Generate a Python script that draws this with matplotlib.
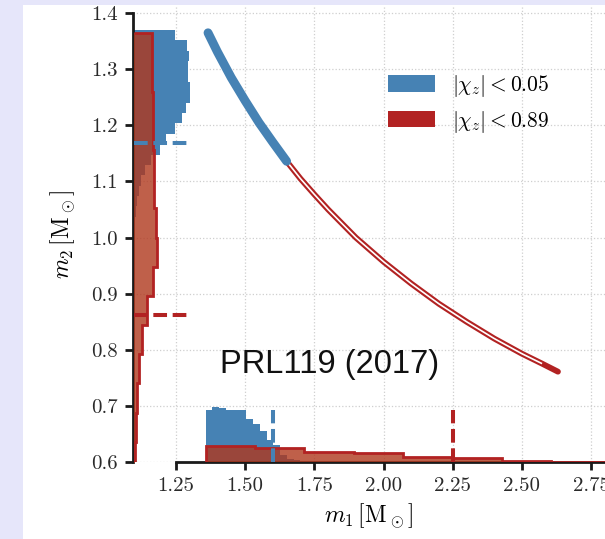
import matplotlib.pyplot as plt
import matplotlib as mpl
from matplotlib.patches import Patch, Rectangle

mpl.rcParams['font.family'] = 'serif'
mpl.rcParams['font.serif'] = ['cmr10']
mpl.rcParams['mathtext.fontset'] = 'cm'
mpl.rcParams['axes.formatter.use_mathtext'] = True

blue = '#4682b4'
red = '#b22222'
red_fill = '#b0381d'

# chirp-mass track
track_m1 = [1.366, 1.40, 1.45, 1.50, 1.55, 1.60, 1.65, 1.70, 1.75, 1.80, 1.90,
            2.00, 2.10, 2.20, 2.30, 2.40, 2.50, 2.57, 2.63]
track_m2 = [1.365, 1.331, 1.285, 1.244, 1.205, 1.170, 1.136, 1.105, 1.077, 1.050,
            1.000, 0.957, 0.918, 0.882, 0.850, 0.820, 0.793, 0.776, 0.761]
n_blue = 7  # |chi|<0.05 part ends at m1 ~ 1.65

# m2 marginal (horizontal, baseline m1 = 1.10)
m2_base = 1.10
m2_blue_edges = [1.037, 1.0555, 1.074, 1.0925, 1.111, 1.1295, 1.148, 1.1665, 1.185,
                 1.2035, 1.222, 1.2405, 1.259, 1.2775, 1.296, 1.3145, 1.333, 1.3515, 1.370]
m2_blue_w = [0.005, 0.010, 0.018, 0.025, 0.040, 0.060, 0.092, 0.114, 0.147, 0.172,
             0.188, 0.201, 0.201, 0.195, 0.194, 0.199, 0.190, 0.147]
m2_red_edges = [0.584, 0.636, 0.688, 0.740, 0.792, 0.844, 0.896, 0.948, 1.000, 1.052,
                1.104, 1.156, 1.208, 1.260, 1.312, 1.364]
m2_red_w = [0.004, 0.006, 0.008, 0.017, 0.026, 0.046, 0.066, 0.083, 0.078, 0.072,
            0.072, 0.069, 0.068, 0.0625, 0.0625]

# m1 marginal (vertical, baseline m2 = 0.6)
m1_base = 0.6
m1_blue_edges = [1.357, 1.3815, 1.406, 1.4305, 1.455, 1.4795, 1.504, 1.5285, 1.553,
                 1.5775, 1.602, 1.6265, 1.651, 1.6755, 1.70]
m1_blue_h = [0.0927, 0.0975, 0.0955, 0.0927, 0.0927, 0.0927, 0.0767, 0.0672, 0.0558,
             0.0392, 0.030, 0.012, 0.006, 0.004]
m1_red_edges = [1.3585, 1.5365, 1.7145, 1.8925, 2.0705, 2.2485, 2.4265, 2.6045, 2.7825, 2.9605]
m1_red_h = [0.029, 0.0255, 0.0175, 0.016, 0.0094, 0.0066, 0.0023, 0.0005, 0.0002]

# medians
m2_med_blue, m2_med_red = 1.168, 0.862
m1_med_blue, m1_med_red = 1.600, 2.252
hline_len = 0.195
vline_len = 0.093


def hfill(edges, widths, **kw):
    xs = [m2_base + w for w in widths] + [m2_base + widths[-1]]
    ax.fill_betweenx(edges, m2_base, xs, step='post', lw=0, **kw)


def vfill(edges, heights, **kw):
    ys = [m1_base + h for h in heights] + [m1_base + heights[-1]]
    ax.fill_between(edges, m1_base, ys, step='post', lw=0, **kw)


fig = plt.figure(figsize=(6.05, 5.39), dpi=100, facecolor='#e6e6fa')
fig.patches.append(Rectangle((23 / 605, 0), 1, 1 - 5 / 539, transform=fig.transFigure,
                             facecolor='white', edgecolor='none', zorder=-10))
ax = fig.add_axes([133 / 605, 77 / 539, 1 - 133 / 605, 455 / 539])
ax.set_facecolor('none')

ax.set_xlim(1.095, 2.80)
ax.set_ylim(0.6, 1.411)
ax.set_axisbelow(True)
ax.grid(True, ls=':', color='#cfcfcf', lw=0.9)

# marginals
hfill(m2_blue_edges, m2_blue_w, color=blue, zorder=2)
vfill(m1_blue_edges, m1_blue_h, color=blue, zorder=2)
hfill(m2_red_edges, m2_red_w, color=red_fill, alpha=0.8, zorder=3)
vfill(m1_red_edges, m1_red_h, color=red_fill, alpha=0.8, zorder=3)
ax.stairs([m2_base + w for w in m2_red_w], m2_red_edges, baseline=m2_base,
          orientation='horizontal', fill=False, color=red, lw=2.0, zorder=4)
ax.stairs([m1_base + h for h in m1_red_h], m1_red_edges, baseline=m1_base,
          fill=False, color=red, lw=2.0, zorder=4)

# 2D regions
ax.plot(track_m1, track_m2, color=red, lw=4.2, solid_capstyle='round', zorder=5)
ax.plot(track_m1[:-1], track_m2[:-1], color='white', lw=1.2, zorder=5)
ax.plot(track_m1[:n_blue], track_m2[:n_blue], color=blue, lw=6.4,
        solid_capstyle='round', zorder=6)

# median markers
dash = (0, (3.4, 1.4))
ax.plot([m2_base, m2_base + hline_len], [m2_med_blue] * 2, color=blue, lw=2.9, ls=dash, zorder=7)
ax.plot([m2_base, m2_base + hline_len], [m2_med_red] * 2, color=red, lw=2.9, ls=dash, zorder=7)
ax.plot([m1_med_blue] * 2, [m1_base, m1_base + vline_len], color=blue, lw=2.9, ls=dash, zorder=7)
ax.plot([m1_med_red] * 2, [m1_base, m1_base + vline_len], color=red, lw=2.9, ls=dash, zorder=7)

ax.text(1.409, 0.7586, 'PRL119 (2017)', family='Liberation Sans', fontsize=23.5,
        color='#111111', ha='left', va='baseline', zorder=8)

# axes styling
for s in ['top', 'right']:
    ax.spines[s].set_visible(False)
for s in ['left', 'bottom']:
    ax.spines[s].set_linewidth(2.0)
    ax.spines[s].set_color('#1a1a1a')
ax.spines['left'].set_bounds(0.6, 1.4)
ax.spines['bottom'].set_bounds(1.25, 2.80)
ax.set_xticks([1.25, 1.50, 1.75, 2.00, 2.25, 2.50, 2.75])
ax.set_xticklabels(['1.25', '1.50', '1.75', '2.00', '2.25', '2.50', '2.75'])
ax.set_yticks([0.6, 0.7, 0.8, 0.9, 1.0, 1.1, 1.2, 1.3, 1.4])
ax.set_yticklabels(['0.6', '0.7', '0.8', '0.9', '1.0', '1.1', '1.2', '1.3', '1.4'])
ax.tick_params(width=2.0, length=6, color='#1a1a1a', labelsize=15, labelcolor='#2a2a2a')
ax.tick_params(axis='x', pad=5)
ax.tick_params(axis='y', pad=5)

ax.set_xlabel(r'$m_1\,[\mathrm{M_\odot}]$', fontsize=17, labelpad=4)
ax.set_ylabel(r'$m_2\,[\mathrm{M_\odot}]$', fontsize=17, labelpad=10)

handles = [Patch(facecolor=blue, edgecolor='none'), Patch(facecolor=red, edgecolor='none')]
ax.legend(handles, [r'$|\chi_z| < 0.05$', r'$|\chi_z| < 0.89$'], frameon=False,
          fontsize=15.5, loc='upper left', bbox_to_anchor=(388 / 605, 1 - 73 / 539),
          bbox_transform=fig.transFigure, borderpad=0, borderaxespad=0,
          handlelength=2.2, handleheight=0.8, handletextpad=0.75, labelspacing=0.45)

fig.savefig('out.png', dpi=100, facecolor=fig.get_facecolor())
